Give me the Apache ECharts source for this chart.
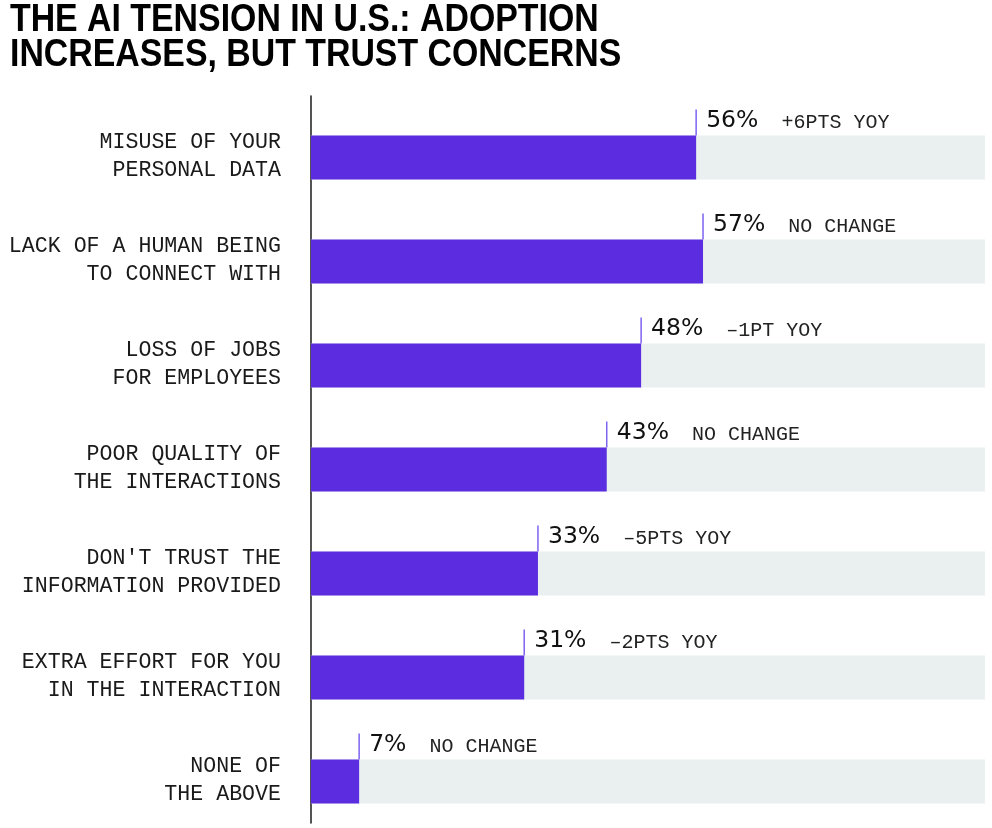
<!DOCTYPE html>
<html>
<head>
<meta charset="utf-8">
<script src="https://cdn.jsdelivr.net/npm/echarts@6/dist/echarts.min.js"></script>
<style>
  html, body { margin: 0; padding: 0; background: #fff; }
  #chart { width: 992px; height: 828px; }
</style>
</head>
<body>
<div id="chart"></div>
<script>
const titleText = 'THE AI TENSION IN U.S.: ADOPTION\nINCREASES, BUT TRUST CONCERNS';
const categories = [
  'MISUSE OF YOUR\nPERSONAL DATA',
  'LACK OF A HUMAN BEING\nTO CONNECT WITH',
  'LOSS OF JOBS\nFOR EMPLOYEES',
  'POOR QUALITY OF\nTHE INTERACTIONS',
  "DON'T TRUST THE\nINFORMATION PROVIDED",
  'EXTRA EFFORT FOR YOU\nIN THE INTERACTION',
  'NONE OF\nTHE ABOVE'
];
const values = [56, 57, 48, 43, 33, 31, 7];
const changes = ['+6PTS YOY', 'NO CHANGE', '\u20131PT YOY', 'NO CHANGE', '\u20135PTS YOY', '\u20132PTS YOY', 'NO CHANGE'];

const PURPLE = '#5B2CE0';
const TRACK = '#EAEFF0';
const BAR_H = 44;
const SHIFT = 8.5;

const chart = echarts.init(document.getElementById('chart'), null, { renderer: 'canvas' });

function renderItem(params, api) {
  const idx = params.dataIndex;
  const v = api.value(0);
  const cat = api.value(1);
  const start = api.coord([0, cat]);
  const end = api.coord([v, cat]);
  const cs = params.coordSys;
  const cy = start[1] + SHIFT;
  const top = cy - BAR_H / 2;
  return {
    type: 'group',
    children: [
      { type: 'rect', shape: { x: cs.x, y: top, width: cs.width, height: BAR_H }, style: { fill: TRACK } },
      { type: 'rect', shape: { x: start[0], y: top, width: end[0] - start[0], height: BAR_H }, style: { fill: PURPLE } },
      { type: 'line', shape: { x1: end[0], y1: top - 26, x2: end[0], y2: top }, style: { stroke: '#7E62F2', lineWidth: 1.5 } },
      {
        type: 'text',
        x: end[0] + 10,
        y: top - 3,
        style: {
          text: '{v|' + v + '%}{c|' + changes[idx] + '}',
          align: 'left',
          verticalAlign: 'bottom',
          rich: {
            v: { font: '23.5px "DejaVu Sans"', fill: '#111', verticalAlign: 'bottom' },
            c: { font: '20px "Liberation Mono"', fill: '#222', padding: [0, 0, 0, 23], verticalAlign: 'bottom' }
          }
        }
      }
    ]
  };
}

chart.setOption({
  animation: false,
  backgroundColor: '#fff',
  graphic: [{
    type: 'text',
    x: 10,
    y: 3,
    scaleX: 0.868,
    style: {
      text: titleText,
      font: 'bold 39px "Liberation Sans", sans-serif',
      lineHeight: 35,
      fill: '#000',
      align: 'left',
      verticalAlign: 'top'
    }
  }],
  grid: [
    { left: 311, right: 7, top: 97, height: 728, containLabel: false },
    { left: 311, right: 7, top: 96, bottom: 5, containLabel: false }
  ],
  xAxis: [
    { type: 'value', min: 0, max: 98, show: false, gridIndex: 0 },
    { type: 'value', min: 0, max: 98, show: false, gridIndex: 1 }
  ],
  yAxis: [{
    type: 'category',
    gridIndex: 0,
    data: categories,
    inverse: true,
    axisLine: { show: false },
    axisTick: { show: false },
    splitLine: { show: false },
    axisLabel: {
      margin: 30,
      align: 'right',
      formatter: function (val) {
        return '{s| }\n' + val.split('\n').map(function (l) { return '{t|' + l + '}'; }).join('\n');
      },
      rich: {
        s: { fontSize: 1, lineHeight: 14, height: 14 },
        t: {
          fontFamily: '"Liberation Mono", monospace',
          fontSize: 21.6,
          lineHeight: 28,
          color: '#1a1a1a',
          align: 'right'
        }
      }
    }
  }, {
    type: 'category',
    gridIndex: 1,
    data: categories,
    inverse: true,
    axisLine: { show: true, lineStyle: { color: '#2a2a2a', width: 1.6 } },
    axisTick: { show: false },
    axisLabel: { show: false },
    splitLine: { show: false }
  }],
  series: [{
    type: 'custom',
    xAxisIndex: 0,
    yAxisIndex: 0,
    renderItem: renderItem,
    encode: { x: 0, y: 1 },
    data: values.map((v, i) => [v, i])
  }]
});
</script>
</body>
</html>
